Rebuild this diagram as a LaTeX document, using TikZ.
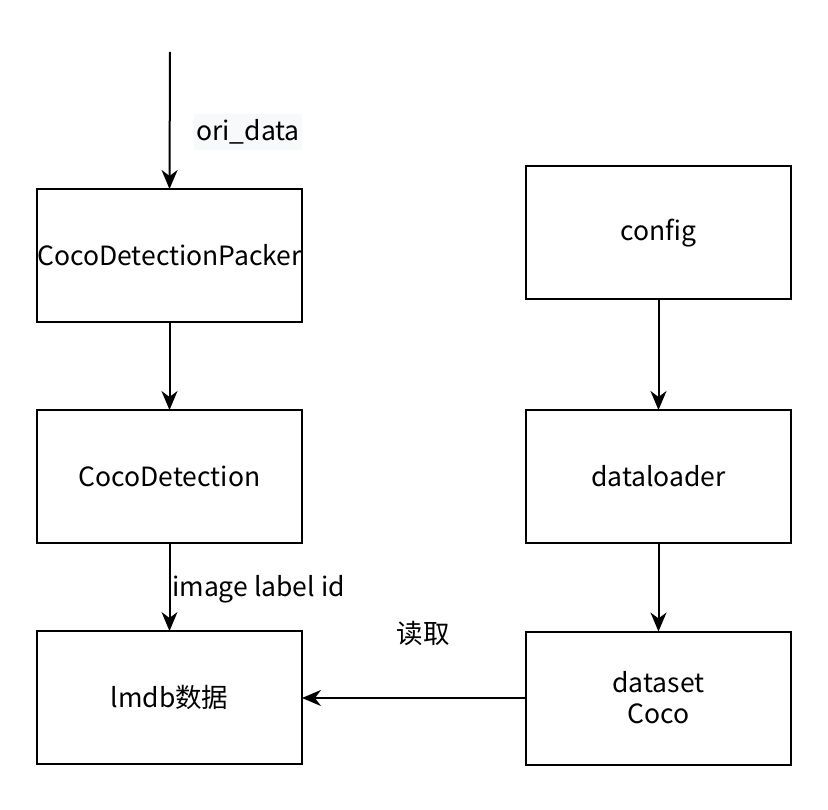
\documentclass[tikz,border=0pt]{standalone}
\usepackage{fontspec}
\setmainfont{Noto Sans CJK SC}
\usetikzlibrary{positioning,arrows.meta}
\tikzset{
    box/.style={draw=black,line width=2pt,minimum width=265pt,minimum height=133pt,inner sep=0pt,outer sep=0pt,align=center,font=\fontsize{26.5}{31}\selectfont},
    flow/.style={line width=2pt,-{Stealth[length=19pt,width=16pt,inset=6pt]}},
    lbl/.style={inner sep=2pt,font=\fontsize{26.5}{31}\selectfont}
}
\definecolor{lblbg}{RGB}{248,249,250}
\begin{document}
\begin{tikzpicture}
                \useasboundingbox (0pt,0pt) rectangle (828pt,-810pt);
                \node[box] (pack) at (169.5pt,-255.5pt) {CocoDetectionPacker};
                \node[box,below=88pt of pack] (det) {CocoDetection};
                \node[box,below=88pt of det] (lmdb) {lmdb数据};
                \node[box] (config) at (658.5pt,-233pt) {config};
                \node[box] (loader) at (658.5pt,-476.5pt) {dataloader};
                \node[box] (dataset) at (658.5pt,-698pt) {dataset\\Coco};
                \coordinate (src) at (170pt,-52pt);
                \foreach \a/\b in {src/pack,pack/det,det/lmdb,config/loader,loader/dataset}
                {
                    \draw[flow] (\a) -- (\b.north);
                }
                \draw[flow] (dataset.west) -- (dataset.west -| lmdb.east);
                \node[lbl,fill=lblbg,inner ysep=6pt] (ori) at (248pt,-132pt) {ori\_data};
                \node[lbl,anchor=west] (ili) at (170pt,-589pt) {image label id};
                \node[lbl] (read) at (423pt,-633pt) {读取};
            \end{tikzpicture}
\end{document}
